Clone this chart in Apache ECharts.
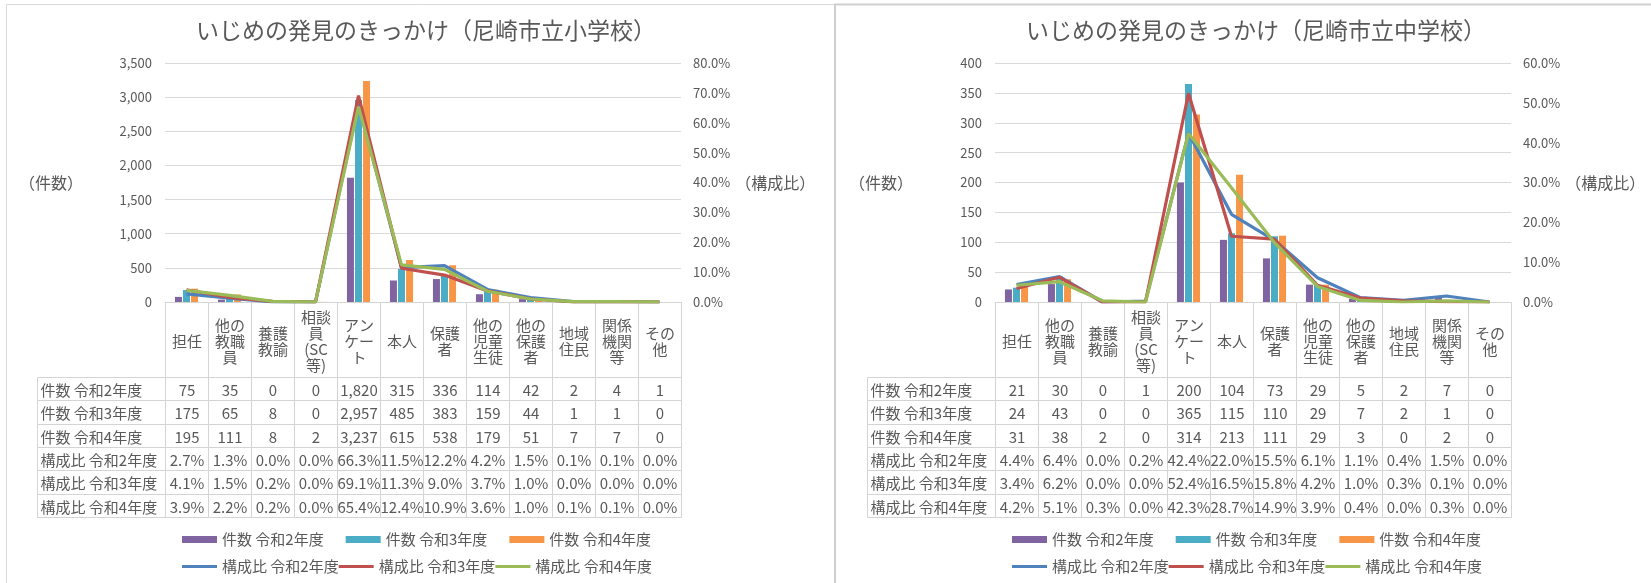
<!DOCTYPE html>
<html><head><meta charset="utf-8">
<script src="https://cdn.jsdelivr.net/npm/echarts@6/dist/echarts.min.js"></script>
<style>html,body{margin:0;padding:0;background:#fff}#c{width:1651px;height:583px}</style>
</head><body><div id="c"></div>
<script>
// ---------- data ----------
const categories = ['担任','他の教職員','養護教諭','相談員(SC等)','アンケート','本人','保護者','他の児童生徒','他の保護者','地域住民','関係機関等','その他'];
const headerLabels = ['担任','他の\n教職\n員','養護\n教諭','相談\n員\n(SC\n等)','アン\nケー\nト','本人','保護\n者','他の\n児童\n生徒','他の\n保護\n者','地域\n住民','関係\n機関\n等','その\n他'];
const countNames = ['件数 令和2年度','件数 令和3年度','件数 令和4年度'];
const ratioNames = ['構成比 令和2年度','構成比 令和3年度','構成比 令和4年度'];

// 小学校
const elemCountR2 = [75,35,0,0,1820,315,336,114,42,2,4,1];
const elemCountR3 = [175,65,8,0,2957,485,383,159,44,1,1,0];
const elemCountR4 = [195,111,8,2,3237,615,538,179,51,7,7,0];
const elemRatioR2 = [2.7,1.3,0.0,0.0,66.3,11.5,12.2,4.2,1.5,0.1,0.1,0.0];
const elemRatioR3 = [4.1,1.5,0.2,0.0,69.1,11.3,9.0,3.7,1.0,0.0,0.0,0.0];
const elemRatioR4 = [3.9,2.2,0.2,0.0,65.4,12.4,10.9,3.6,1.0,0.1,0.1,0.0];

// 中学校
const juniorCountR2 = [21,30,0,1,200,104,73,29,5,2,7,0];
const juniorCountR3 = [24,43,0,0,365,115,110,29,7,2,1,0];
const juniorCountR4 = [31,38,2,0,314,213,111,29,3,0,2,0];
const juniorRatioR2 = [4.4,6.4,0.0,0.2,42.4,22.0,15.5,6.1,1.1,0.4,1.5,0.0];
const juniorRatioR3 = [3.4,6.2,0.0,0.0,52.4,16.5,15.8,4.2,1.0,0.3,0.1,0.0];
const juniorRatioR4 = [4.2,5.1,0.3,0.0,42.3,28.7,14.9,3.9,0.4,0.0,0.3,0.0];

// axis ranges [min, max, interval]
const elemCountAxis = [0, 3500, 500];
const elemRatioAxis = [0, 0.8, 0.1];
const juniorCountAxis = [0, 400, 50];
const juniorRatioAxis = [0, 0.6, 0.1];

const titles = ['いじめの発見のきっかけ（尼崎市立小学校）','いじめの発見のきっかけ（尼崎市立中学校）'];

// ---------- style ----------
const FONT = '"Noto Sans CJK JP", "Noto Sans", sans-serif';
const TXT = '#595959';
const GRID = '#d9d9d9';
const barColors = ['#8064a2','#4bacc6','#f79646'];
const lineColors = ['#4f81bd','#c0504d','#9bbb59'];

const OFF = 830;            // horizontal offset of the second panel
const GL = 165, GW = 516, GT = 63, GH = 239;   // plot grid
const TL = 37, TT = 302, TH = 215;             // table
const LBL = (GL - TL) / (GW / 12);              // label column width in column units
const HDR = 75 / 23.33;                         // header height in row units

const charts = [
  {counts:[elemCountR2,elemCountR3,elemCountR4], ratios:[elemRatioR2,elemRatioR3,elemRatioR4], cAxis:elemCountAxis, rAxis:elemRatioAxis},
  {counts:[juniorCountR2,juniorCountR3,juniorCountR4], ratios:[juniorRatioR2,juniorRatioR3,juniorRatioR4], cAxis:juniorCountAxis, rAxis:juniorRatioAxis}
];

const option = {
  animation:false,
  textStyle:{fontFamily:FONT},
  title:[], grid:[], xAxis:[], yAxis:[], series:[], legend:[],
  graphic:[
    {type:'rect', silent:true, shape:{x:6.5,y:4.5,width:828,height:600}, style:{fill:'none',stroke:'#d9d9d9',lineWidth:1}},
    {type:'rect', silent:true, shape:{x:835,y:4.5,width:830,height:600}, style:{fill:'none',stroke:'#cfcfcf',lineWidth:2}}
  ]
};

function fmtCount(v){ return v.toLocaleString('en-US'); }
function fmtRatio(v){ return v.toFixed(1) + '%'; }

charts.forEach((c, k) => {
  const dx = OFF * k;
  option.title.push({text:titles[k], left:421+dx, top:14, textAlign:'center',
    textStyle:{fontSize:23, fontWeight:'normal', color:TXT, fontFamily:FONT}});
  option.grid.push({left:GL+dx, top:GT, width:GW, height:GH});
  const pg = option.grid.length - 1;
  option.grid.push({left:TL+dx, top:TT, width:GW + (GL-TL), height:TH});
  const tg = option.grid.length - 1;

  option.xAxis.push({type:'category', gridIndex:pg, data:categories,
    axisLine:{show:true, lineStyle:{color:GRID}}, axisTick:{show:false}, axisLabel:{show:false}});
  const px = option.xAxis.length - 1;
  option.xAxis.push({type:'value', gridIndex:tg, min:-LBL, max:12, show:false});
  const tx = option.xAxis.length - 1;

  option.yAxis.push({type:'value', gridIndex:pg, min:c.cAxis[0], max:c.cAxis[1], interval:c.cAxis[2],
    axisLine:{show:false}, axisTick:{show:false},
    axisLabel:{formatter:v=>fmtCount(v), color:TXT, fontSize:13, margin:13},
    splitLine:{lineStyle:{color:GRID}},
    name:'（件数）', nameLocation:'middle', nameRotate:0, nameGap:82,
    nameTextStyle:{color:TXT, fontSize:16}});
  const py = option.yAxis.length - 1;
  option.yAxis.push({type:'value', gridIndex:pg, position:'right', min:c.rAxis[0], max:c.rAxis[1], interval:c.rAxis[2],
    axisLine:{show:false}, axisTick:{show:false}, splitLine:{show:false},
    axisLabel:{formatter:v=>(v*100).toFixed(1)+'%', color:TXT, fontSize:13, margin:12},
    name:'（構成比）', nameLocation:'middle', nameRotate:0, nameGap:52,
    nameTextStyle:{color:TXT, fontSize:16}});
  const ry = option.yAxis.length - 1;
  option.yAxis.push({type:'value', gridIndex:tg, min:0, max:HDR+6, inverse:true, show:false});
  const ty = option.yAxis.length - 1;

  c.counts.forEach((arr, i) => {
    option.series.push({type:'bar', name:countNames[i], xAxisIndex:px, yAxisIndex:py,
      data:arr, barWidth:7, barGap:'15%', itemStyle:{color:barColors[i]}});
  });
  c.ratios.forEach((arr, i) => {
    option.series.push({type:'line', name:ratioNames[i], xAxisIndex:px, yAxisIndex:ry,
      data:arr.map(v=>v/100), symbol:'none', z:3,
      lineStyle:{width:3.2, color:lineColors[i]}, itemStyle:{color:lineColors[i]}});
  });

  // table cells
  const cells = [], texts = [], aligns = [];
  headerLabels.forEach((h, i) => { cells.push([i, i+1, 0, HDR]); texts.push(h); aligns.push('center'); });
  const rows = [
    [countNames[0], c.counts[0], fmtCount], [countNames[1], c.counts[1], fmtCount], [countNames[2], c.counts[2], fmtCount],
    [ratioNames[0], c.ratios[0], fmtRatio], [ratioNames[1], c.ratios[1], fmtRatio], [ratioNames[2], c.ratios[2], fmtRatio]
  ];
  rows.forEach((r, ri) => {
    cells.push([-LBL, 0, HDR+ri, HDR+ri+1]); texts.push(r[0]); aligns.push('left');
    r[1].forEach((v, i) => { cells.push([i, i+1, HDR+ri, HDR+ri+1]); texts.push(r[2](v)); aligns.push('center'); });
  });
  option.series.push({type:'custom', xAxisIndex:tx, yAxisIndex:ty, data:cells, silent:true, clip:false,
    renderItem:(params, api) => {
      const p0 = api.coord([api.value(0), api.value(2)]);
      const p1 = api.coord([api.value(1), api.value(3)]);
      const x = Math.round(p0[0]) + 0.5, y = Math.round(p0[1]) + 0.5;
      const w = Math.round(p1[0]) - Math.round(p0[0]), h = Math.round(p1[1]) - Math.round(p0[1]);
      const al = aligns[params.dataIndex];
      return {type:'group', children:[
        {type:'rect', shape:{x, y, width:w, height:h}, style:{fill:'none', stroke:'#d4d4d4', lineWidth:1}},
        {type:'text', style:{text:texts[params.dataIndex], x: al==='left' ? x+3 : x+w/2, y: y+h/2+1,
          align:al, verticalAlign:'middle', fill:TXT, font:'15px '+FONT, lineHeight:16}}
      ]};
    }});

  option.legend.push({left:177+dx, top:527, icon:'rect', itemWidth:35, itemHeight:7, itemGap:22,
    data:countNames, textStyle:{color:TXT, fontSize:15}, selectedMode:false});
  option.legend.push({left:177+dx, top:554, icon:'rect', itemWidth:35, itemHeight:3, itemGap:0,
    data:ratioNames, textStyle:{color:TXT, fontSize:15}, selectedMode:false});
});

const chart = echarts.init(document.getElementById('c'), null, {renderer:'canvas'});
chart.setOption(option);
</script>
</body></html>
